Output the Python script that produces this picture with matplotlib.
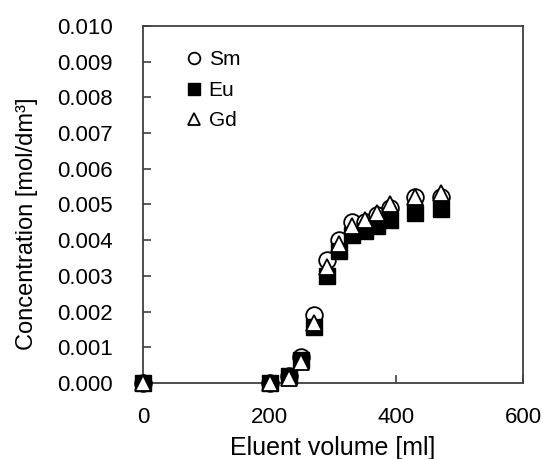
import matplotlib
matplotlib.use("Agg")
import matplotlib.pyplot as plt

plt.rcParams['font.family'] = ['Liberation Sans', 'DejaVu Sans']

volume = [0, 200, 230, 250, 270, 290, 310, 330, 350, 370, 390, 430, 470]
sm = [0.0, 0.0, 0.00020, 0.00073, 0.00190, 0.00344, 0.00400, 0.00450, 0.00452, 0.00470, 0.00490, 0.00520, 0.00520]
eu = [0.0, 0.0, 0.00020, 0.00065, 0.00157, 0.00300, 0.00370, 0.00415, 0.00425, 0.00440, 0.00456, 0.00476, 0.00487]
gd = [0.0, 0.0, 0.00015, 0.00060, 0.00168, 0.00325, 0.00390, 0.00440, 0.00456, 0.00476, 0.00500, 0.00520, 0.00532]

xticks = [0, 200, 400, 600]
yticks = [0.000, 0.001, 0.002, 0.003, 0.004, 0.005, 0.006, 0.007, 0.008, 0.009, 0.010]

fig = plt.figure(figsize=(5.43, 4.59), dpi=100)
ax = fig.add_axes([0.2634, 0.1656, 0.9632 - 0.2634, 0.9434 - 0.1656])

ms = 12
ax.plot(volume, sm, 'o', ms=ms, mfc='white', mec='black', mew=1.3, label='Sm', clip_on=False, zorder=3)
ax.plot(volume, eu, 's', ms=ms * 0.95, mfc='black', mec='black', mew=1.0, label='Eu', clip_on=False, zorder=4)
ax.plot(volume, gd, '^', ms=ms, mfc='white', mec='black', mew=1.3, label='Gd', clip_on=False, zorder=5)

ax.set_xlim(0, 600)
ax.set_ylim(0, 0.010)
ax.set_xticks(xticks)
ax.set_yticks(yticks)
ax.set_yticklabels([f"{v:.3f}" for v in yticks])
ax.tick_params(direction='in', length=6, width=1.2, color='#404040', labelsize=16)
ax.tick_params(axis='y', pad=22)
ax.tick_params(axis='x', pad=17)
for s in ax.spines.values():
    s.set_color('#404040')
    s.set_linewidth(1.3)

ax.set_xlabel('Eluent volume [ml]', fontsize=18)
ax.xaxis.set_label_coords(0.5, -0.148)
ax.set_ylabel('Concentration [mol/dm³]', fontsize=17)
ax.yaxis.set_label_coords(-0.276, 0.445)

leg = ax.legend(loc='upper left', bbox_to_anchor=(0.096, 0.955), frameon=False, fontsize=15,
                handlelength=0.6, handletextpad=0.4, labelspacing=0.55, markerscale=0.7,
                borderaxespad=0.0)

fig.savefig('out.png', dpi=100)
